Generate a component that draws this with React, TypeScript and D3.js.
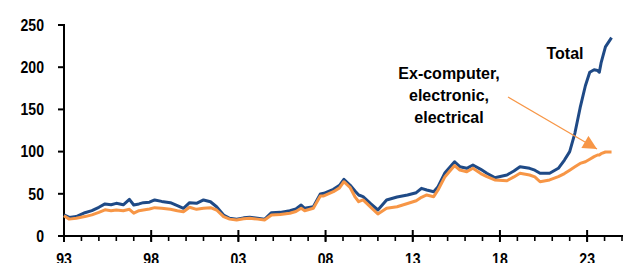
import React, { useEffect, useRef } from "react";
import * as d3 from "d3";

// fractional years of the traced points
const years = [
  1993.0, 1993.3, 1993.7, 1994.2, 1994.6, 1995.0, 1995.35, 1995.7, 1996.0, 1996.4,
  1996.75, 1997.0, 1997.3, 1997.55, 1997.9, 1998.2, 1998.6, 1999.1, 1999.5, 1999.85,
  2000.2, 2000.6, 2001.0, 2001.4, 2001.75, 2002.15, 2002.5, 2002.9, 2003.3, 2003.65,
  2004.1, 2004.5, 2004.9, 2005.4, 2005.95, 2006.3, 2006.6, 2006.8, 2007.3, 2007.7,
  2007.9, 2008.45, 2008.8, 2009.05, 2009.4, 2009.7, 2009.9, 2010.15, 2010.6, 2011.0,
  2011.5, 2012.1, 2012.7, 2013.2, 2013.5, 2013.8, 2014.2, 2014.45, 2014.85, 2015.4,
  2015.7, 2016.1, 2016.45, 2016.9, 2017.25, 2017.7, 2018.4, 2018.8, 2019.15, 2019.7,
  2020.0, 2020.3, 2020.85, 2021.35, 2021.7, 2022.0, 2022.3, 2022.6, 2022.9, 2023.15,
  2023.4, 2023.6, 2023.7, 2023.8, 2024.05, 2024.4,
];

const totalValues = [
  25, 22, 23, 27.6, 30, 34, 38, 37, 38.7, 37,
  43.5, 36.7, 38, 39.5, 40, 42.7, 41, 39.5, 36, 32.8,
  39.5, 38.7, 42.7, 40.6, 34.7, 24.9, 21, 19.8, 21.5, 22.1,
  21, 19.8, 27.6, 28, 30, 32, 36.7, 32.8, 34.7, 49.8,
  50.6, 55.3, 60, 67.2, 60.4, 53, 48.6, 46.6, 38, 30.8,
  42.7, 46.2, 48.5, 51.3, 56.5, 54.5, 52.5, 58.4, 75, 88,
  82.1, 80.2, 84.1, 79, 74.3, 69.1, 72.3, 77, 82.1, 80.2,
  78, 74.3, 74.3, 80.2, 90, 100, 122, 152, 178, 194,
  197, 196, 194, 205, 224, 235,
];

const exCompValues = [
  24, 20, 21, 23, 25, 28, 31, 30, 30.8, 30,
  31.6, 27, 30, 30.8, 32, 33.6, 33, 31.6, 30, 28.8,
  34, 31.6, 32.8, 33.6, 30.8, 22.9, 20, 19, 20.5, 21,
  20, 19, 24.9, 25.5, 26.9, 29, 32.8, 30, 32.8, 47.4,
  47.5, 52.5, 57, 64.3, 57.7, 46, 40.6, 42.7, 34, 26.1,
  32.8, 34.7, 38.5, 41.8, 45.9, 48.6, 46.6, 54.5, 70.3, 83.5,
  78.2, 76.2, 80.2, 74, 70.3, 66.4, 65.5, 70, 74.3, 72.3,
  70, 64.3, 66.4, 70.3, 74, 78, 82, 86, 88, 91,
  94, 96, 96, 97.5, 99.5, 99.5,
];

const yTicks = [0, 50, 100, 150, 200, 250];
const xMajor = [1993, 1998, 2003, 2008, 2013, 2018, 2023];
const xMinor = d3.range(1993, 2026);

const annotationLines = ["Ex-computer,", "electronic,", "electrical"];

const BLUE = "#1f4a86";
const ORANGE = "#f79646";
const FONT = "'Liberation Sans', Arial, sans-serif";

export default function App() {
  const svgRef = useRef<SVGSVGElement>(null);

  useEffect(() => {
    if (!svgRef.current) return;
    const svg = d3.select(svgRef.current);
    svg.selectAll("*").remove();

    const x = d3.scaleLinear().domain([1993, 2025]).range([64, 622]);
    const y = d3.scaleLinear().domain([0, 250]).range([236, 25]);

    const g = svg.append("g").attr("font-family", FONT).attr("font-weight", "bold");

    // y axis
    g.append("line")
      .attr("x1", 64).attr("x2", 64)
      .attr("y1", y(250) - 1).attr("y2", y(0))
      .attr("stroke", "#000").attr("stroke-width", 2);
    yTicks.forEach((t) => {
      g.append("line")
        .attr("x1", 58).attr("x2", 64)
        .attr("y1", y(t)).attr("y2", y(t))
        .attr("stroke", "#000").attr("stroke-width", 2);
      g.append("text")
        .attr("transform", `translate(44,${y(t)}) scale(0.88,1)`)
        .attr("dy", "0.36em")
        .attr("text-anchor", "end")
        .attr("font-size", 16)
        .text(t);
    });

    // x axis
    g.append("line")
      .attr("x1", 64).attr("x2", 623)
      .attr("y1", y(0)).attr("y2", y(0))
      .attr("stroke", "#000").attr("stroke-width", 2);
    xMinor.forEach((yr) => {
      g.append("line")
        .attr("x1", x(yr)).attr("x2", x(yr))
        .attr("y1", y(0)).attr("y2", y(0) + 5)
        .attr("stroke", "#000").attr("stroke-width", 1.6);
    });
    xMajor.forEach((yr) => {
      g.append("line")
        .attr("x1", x(yr)).attr("x2", x(yr))
        .attr("y1", y(0) - 6).attr("y2", y(0) + 6)
        .attr("stroke", "#000").attr("stroke-width", 2);
      g.append("text")
        .attr("transform", `translate(${x(yr)},264.5) scale(0.88,1)`)
        .attr("text-anchor", "middle")
        .attr("font-size", 16)
        .text(String(yr % 100).padStart(2, "0"));
    });

    // series
    const line = d3
      .line<number>()
      .x((_, i) => x(years[i]))
      .y((d) => y(d));

    g.append("path")
      .attr("d", line(totalValues))
      .attr("fill", "none")
      .attr("stroke", BLUE)
      .attr("stroke-width", 3)
      .attr("stroke-linejoin", "round");

    g.append("path")
      .attr("d", line(exCompValues))
      .attr("fill", "none")
      .attr("stroke", ORANGE)
      .attr("stroke-width", 3)
      .attr("stroke-linejoin", "round");

    // labels
    g.append("text")
      .attr("x", 565).attr("y", 59)
      .attr("text-anchor", "middle")
      .attr("font-size", 16)
      .text("Total");

    annotationLines.forEach((s, i) => {
      g.append("text")
        .attr("x", 449).attr("y", 79 + i * 22)
        .attr("text-anchor", "middle")
        .attr("font-size", 16)
        .text(s);
    });

    // arrow
    const defs = svg.append("defs");
    defs.append("marker")
      .attr("id", "arrowHead")
      .attr("viewBox", "0 0 10 10")
      .attr("refX", 10).attr("refY", 5)
      .attr("markerUnits", "userSpaceOnUse")
      .attr("markerWidth", 16).attr("markerHeight", 14)
      .attr("orient", "auto")
      .append("path")
      .attr("d", "M0,0 L10,5 L0,10 Z")
      .attr("fill", ORANGE);

    g.append("line")
      .attr("x1", 508).attr("y1", 97)
      .attr("x2", 597).attr("y2", 149)
      .attr("stroke", ORANGE)
      .attr("stroke-width", 1.2)
      .attr("marker-end", "url(#arrowHead)");
  }, []);

  return (
    <svg
      ref={svgRef}
      width={623}
      height={263}
      style={{ position: "absolute", left: 0, top: 0, background: "#fff" }}
    />
  );
}
